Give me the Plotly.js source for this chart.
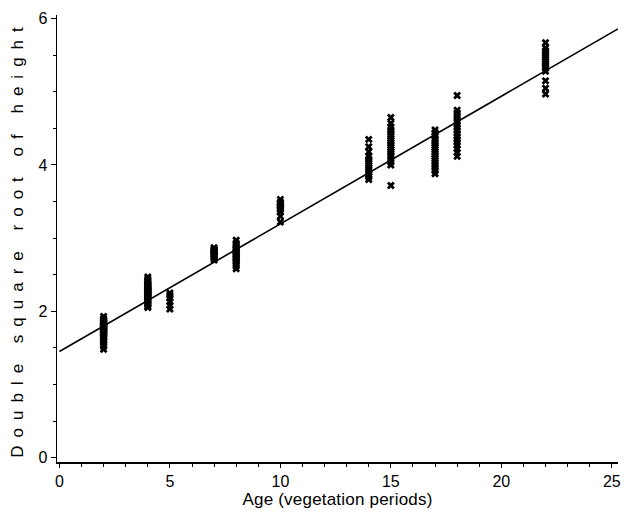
<!DOCTYPE html>
<html>
<head>
<meta charset="utf-8">
<script src="https://cdn.plot.ly/plotly-3.0.1.min.js"></script>
<style>
body { margin: 0; background: #fff; }
#chart { width: 626px; height: 516px; }
.ytitle { letter-spacing: 8px; }
.xtitle { letter-spacing: 0.2px; }
</style>
</head>
<body>
<div id="chart"></div>
<script>
// Ages (vegetation periods) of the sampled groups
const ages = [2, 4, 5, 7, 8, 10, 14, 15, 17, 18, 22];

// Double square root of height, one array per age group
const h2  = [1.48, 1.52, 1.55, 1.58, 1.60, 1.62, 1.64, 1.66, 1.68, 1.70, 1.71, 1.72, 1.73, 1.74, 1.75, 1.76, 1.77, 1.78, 1.79, 1.80, 1.81, 1.82, 1.83, 1.84, 1.85, 1.86, 1.88, 1.90, 1.93];
const h4  = [2.05, 2.07, 2.09, 2.11, 2.13, 2.15, 2.16, 2.18, 2.19, 2.20, 2.21, 2.22, 2.23, 2.24, 2.25, 2.26, 2.27, 2.28, 2.29, 2.30, 2.31, 2.32, 2.33, 2.34, 2.35, 2.36, 2.38, 2.40, 2.42, 2.44, 2.47];
const h5  = [2.03, 2.08, 2.13, 2.18, 2.22, 2.25];
const h7  = [2.70, 2.72, 2.74, 2.75, 2.77, 2.78, 2.80, 2.81, 2.82, 2.83, 2.84, 2.85, 2.87];
const h8  = [2.58, 2.62, 2.65, 2.68, 2.70, 2.72, 2.74, 2.76, 2.78, 2.80, 2.82, 2.84, 2.86, 2.88, 2.90, 2.93, 2.97];
const h10 = [3.22, 3.30, 3.36, 3.39, 3.41, 3.43, 3.45, 3.47, 3.49, 3.53];
const h14 = [3.80, 3.84, 3.87, 3.90, 3.93, 3.96, 3.99, 4.02, 4.05, 4.08, 4.12, 4.18, 4.25, 4.35];
const h15 = [3.72, 4.00, 4.04, 4.08, 4.12, 4.15, 4.18, 4.21, 4.24, 4.27, 4.30, 4.33, 4.36, 4.39, 4.42, 4.45, 4.48, 4.52, 4.57, 4.65];
const h17 = [3.88, 3.92, 3.96, 4.00, 4.03, 4.06, 4.09, 4.12, 4.15, 4.18, 4.21, 4.24, 4.27, 4.30, 4.33, 4.36, 4.40, 4.44, 4.48];
const h18 = [4.12, 4.17, 4.22, 4.27, 4.31, 4.35, 4.39, 4.43, 4.47, 4.51, 4.55, 4.59, 4.63, 4.67, 4.71, 4.75, 4.95];
const h22 = [4.97, 5.05, 5.15, 5.28, 5.32, 5.35, 5.38, 5.41, 5.44, 5.47, 5.50, 5.53, 5.56, 5.60, 5.67];
const heights = [h2, h4, h5, h7, h8, h10, h14, h15, h17, h18, h22];

// Fitted regression line end points
const lineX = [0, 25.28];
const lineY = [1.45, 5.86];

const xs = [], ys = [];
ages.forEach((a, i) => heights[i].forEach(v => { xs.push(a); ys.push(v); }));

const font = { family: 'Liberation Sans, Arial, sans-serif', color: '#000' };

Plotly.newPlot('chart', [
  {
    x: xs, y: ys, type: 'scatter', mode: 'markers',
    marker: { symbol: 'x', size: 7, color: '#000', line: { width: 0 } },
    hoverinfo: 'none'
  },
  {
    x: lineX, y: lineY, type: 'scatter', mode: 'lines',
    line: { color: '#000', width: 1.6 },
    hoverinfo: 'none'
  }
], {
  width: 626, height: 516,
  margin: { l: 57, r: 8, t: 15, b: 54 },
  paper_bgcolor: '#fff', plot_bgcolor: '#fff',
  showlegend: false,
  font: Object.assign({ size: 16 }, font),
  xaxis: {
    range: [-0.11, 25.28], tickvals: [0, 5, 10, 15, 20, 25],
    showgrid: false, zeroline: false, showline: true, linecolor: '#000', linewidth: 1.5,
    ticks: 'outside', ticklen: 4, tickwidth: 1, tickcolor: '#000',
    minor: { dtick: 1, tick0: 0, ticks: 'outside', ticklen: 3, tickcolor: '#000', tickwidth: 1 },
    tickfont: Object.assign({ size: 16 }, font),
    title: { text: 'Age (vegetation periods)', font: Object.assign({ size: 17 }, font), standoff: 2 }
  },
  yaxis: {
    range: [-0.06, 6.05], tickvals: [0, 2, 4, 6],
    showgrid: false, zeroline: false, showline: true, linecolor: '#000', linewidth: 1.5,
    ticks: 'outside', ticklen: 5, tickwidth: 1, tickcolor: '#000',
    minor: { dtick: 0.5, tick0: 0, ticks: 'outside', ticklen: 3, tickcolor: '#000', tickwidth: 1 },
    tickfont: Object.assign({ size: 16 }, font),
    title: { text: 'Double square root of height', font: Object.assign({ size: 17 }, font), standoff: 10 }
  }
}, { staticPlot: true });
</script>
</body>
</html>
